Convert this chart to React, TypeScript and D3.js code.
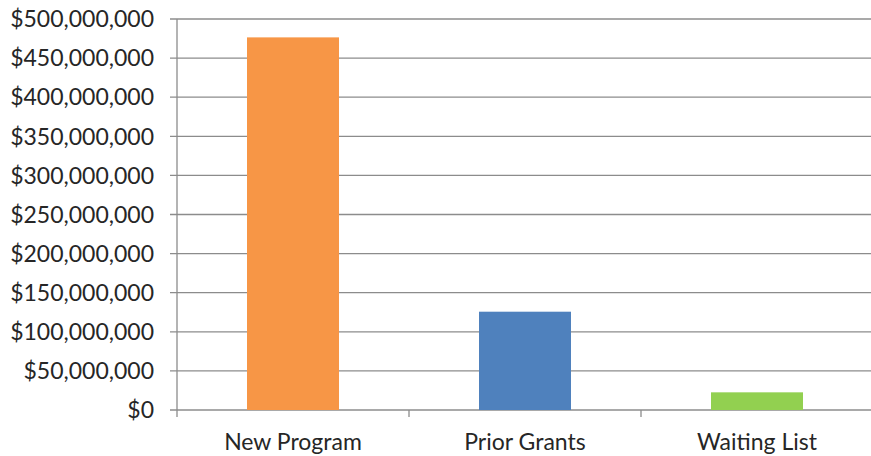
import React from "react";
import * as d3 from "d3";

const categories = ["New Program", "Prior Grants", "Waiting List"];
const values = [476500000, 125700000, 22600000];
const colors = ["#F79646", "#4F81BD", "#92D050"];
const yTicks = [0, 50000000, 100000000, 150000000, 200000000, 250000000, 300000000, 350000000, 400000000, 450000000, 500000000];

const W = 871;
const H = 456;
const left = 177;
const right = 873;
const top = 19;
const bottom = 410;
const FONT = "Lato, 'Open Sans', sans-serif";

export default function App() {
  const x = d3.scaleBand<string>().domain(categories).range([left, right]).paddingInner(0).paddingOuter(0);
  const y = d3.scaleLinear().domain([0, 500000000]).range([bottom, top]);
  const fmt = (v: number) => "$" + d3.format(",")(v);
  const bw = 92;
  return (
    <svg width={W} height={H} style={{ position: "absolute", left: 0, top: 0, background: "#fff" }}>
      {yTicks.map((t) => (
        <g key={t}>
          <line x1={left - 7} x2={W} y1={y(t)} y2={y(t)} stroke="#8c8c8c" strokeWidth={1.3} />
          <text x={154} y={y(t)} dy="0.36em" textAnchor="end" fontFamily={FONT} fontSize={23} fill="#262626">
            {fmt(t)}
          </text>
        </g>
      ))}
      <line x1={left} x2={left} y1={top} y2={bottom + 7} stroke="#8c8c8c" strokeWidth={1.3} />
      {categories.map((c, i) => (
        <line key={"t" + i} x1={(x(c) as number) + x.bandwidth()} x2={(x(c) as number) + x.bandwidth()} y1={bottom} y2={bottom + 7} stroke="#8c8c8c" strokeWidth={1.3} />
      ))}
      {categories.map((c, i) => {
        const cx = (x(c) as number) + x.bandwidth() / 2;
        return (
          <g key={c}>
            <rect x={cx - bw / 2} y={y(values[i])} width={bw} height={bottom - y(values[i])} fill={colors[i]} />
            <text x={cx} y={450} textAnchor="middle" fontFamily={FONT} fontSize={23} fill="#262626">
              {c}
            </text>
          </g>
        );
      })}
    </svg>
  );
}
